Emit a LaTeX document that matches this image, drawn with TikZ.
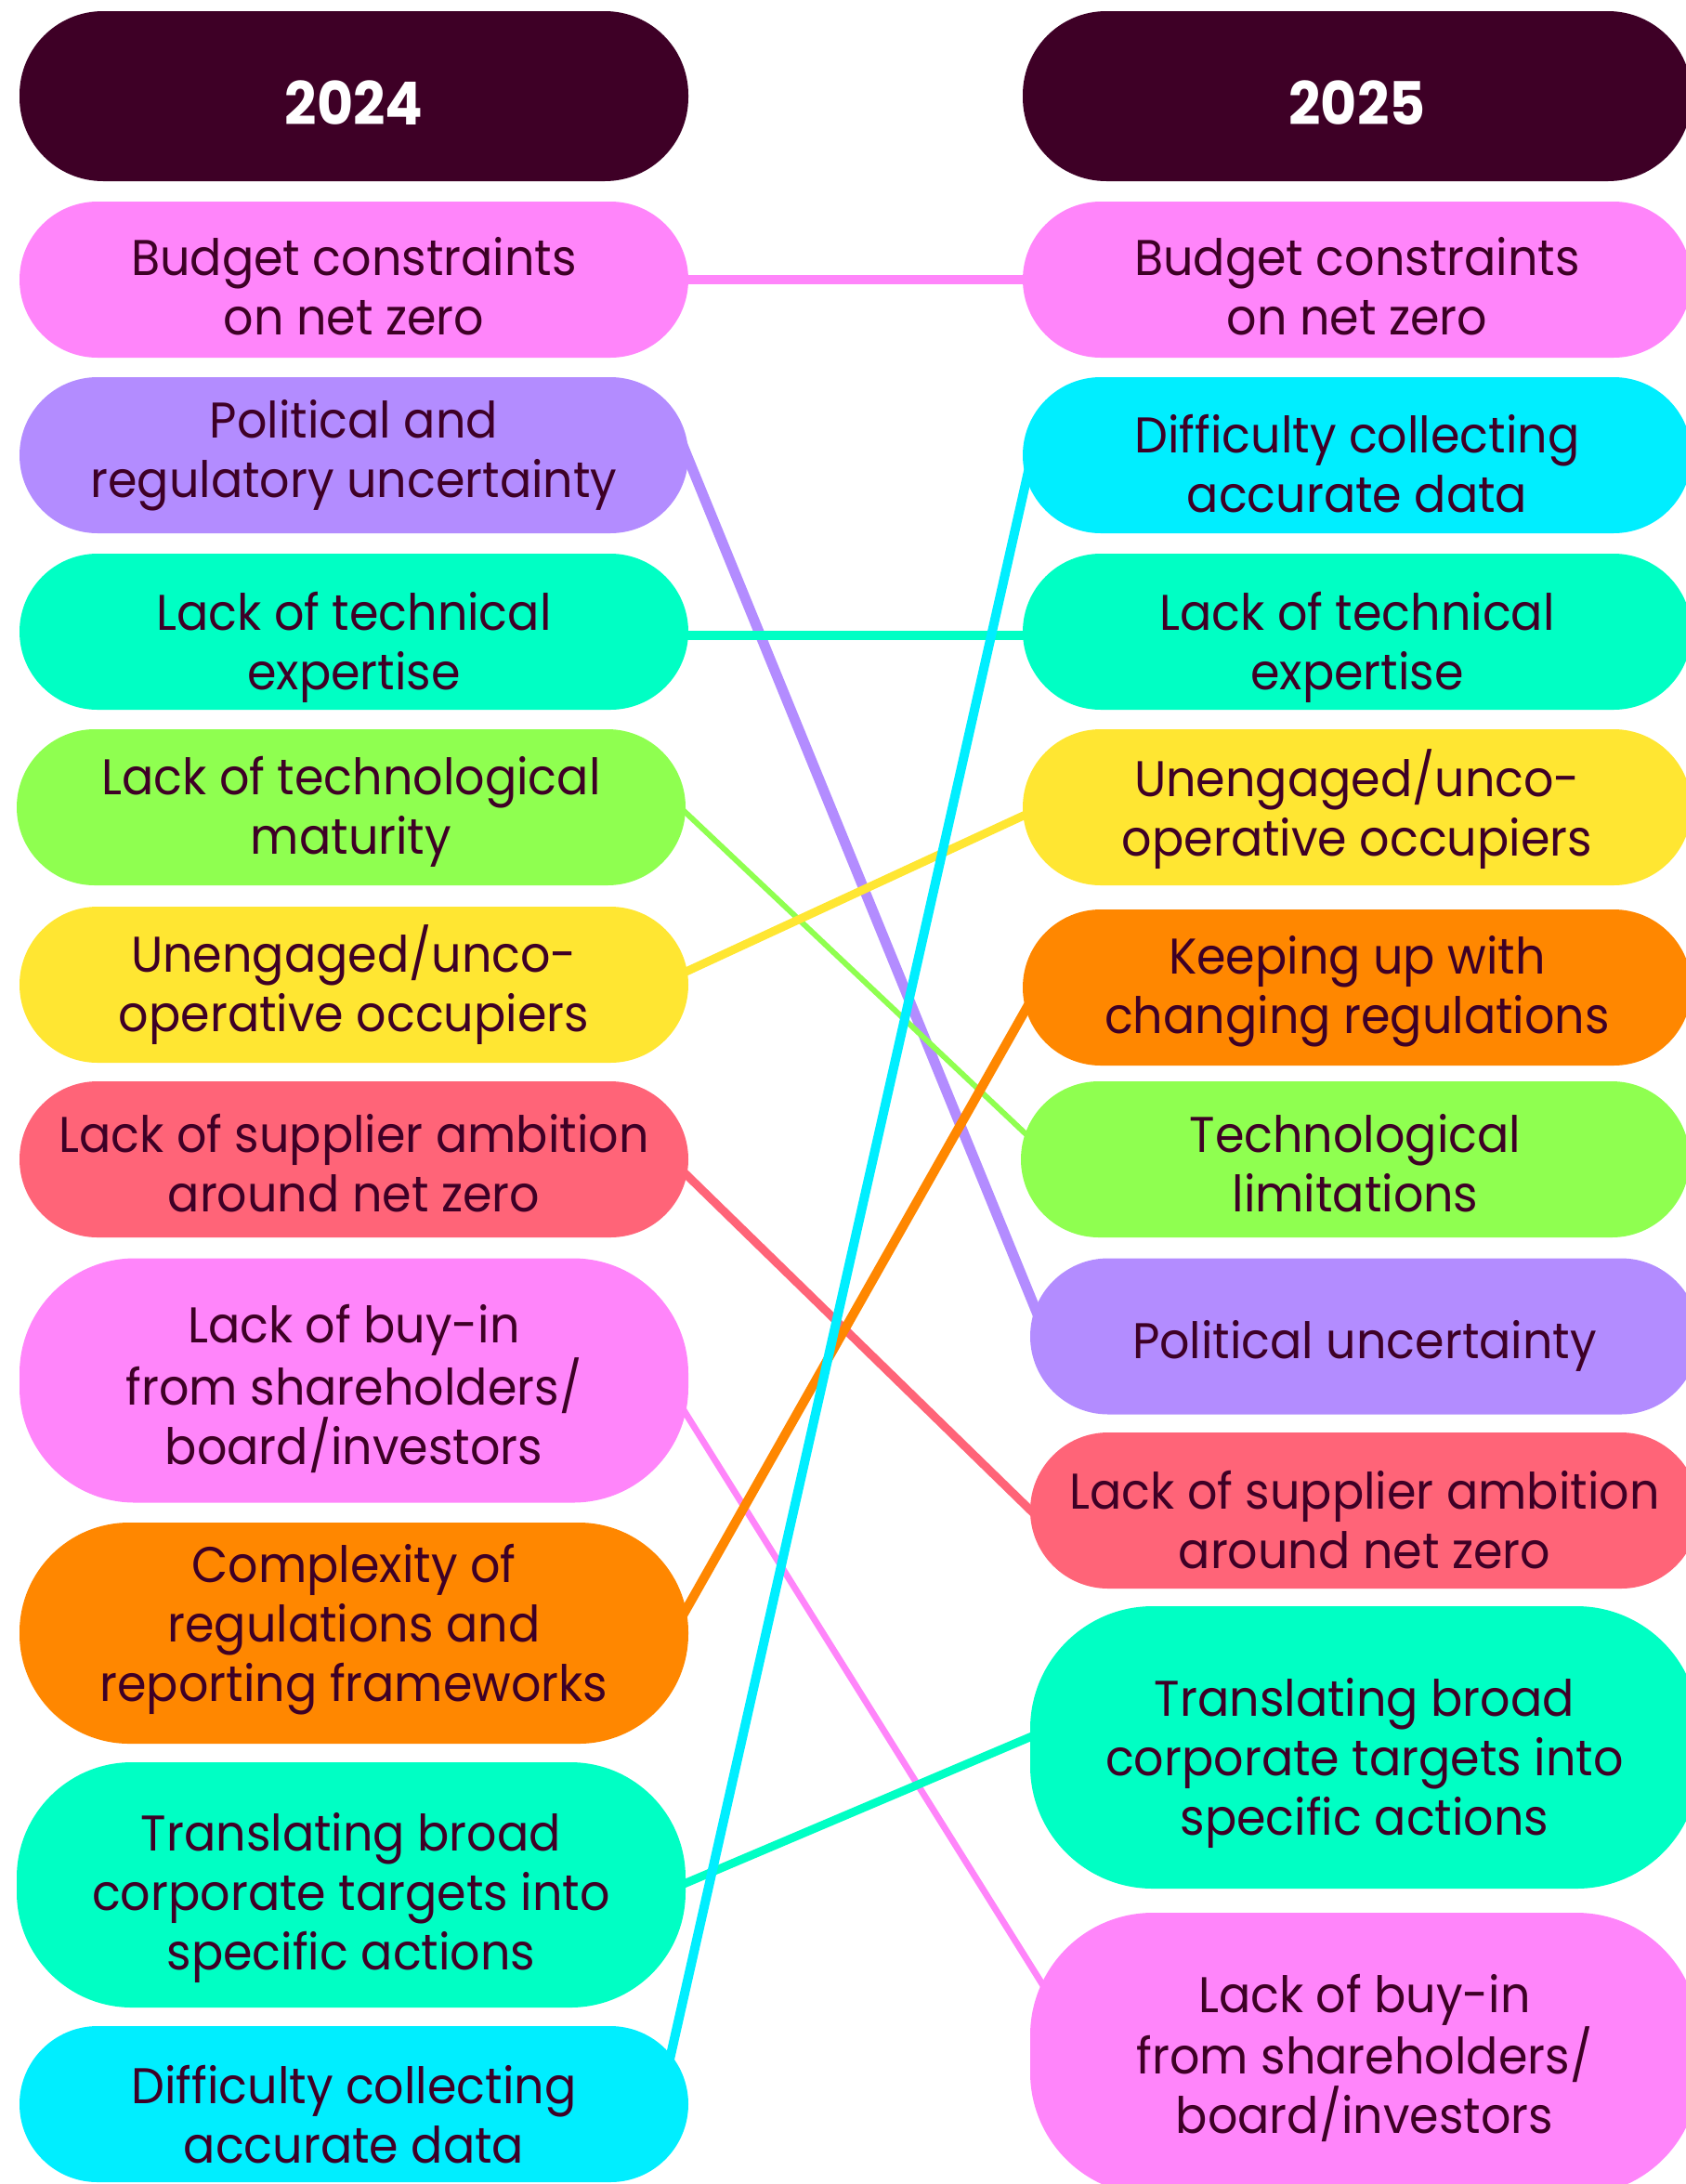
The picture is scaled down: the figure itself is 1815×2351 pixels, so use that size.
\documentclass[tikz,border=0pt]{standalone}
\usepackage{fontspec}
\setmainfont{Poppins}[FakeStretch=0.94]
\usetikzlibrary{calc,backgrounds}
\definecolor{plum}{HTML}{3E0026}
\definecolor{cpink}{HTML}{FF85FA}
\definecolor{cpurple}{HTML}{B38CFF}
\definecolor{cteal}{HTML}{00FFC4}
\definecolor{ccyan}{HTML}{00EEFF}
\definecolor{cgreen}{HTML}{8FFF50}
\definecolor{cyellow}{HTML}{FFE632}
\definecolor{corange}{HTML}{FF8700}
\definecolor{ccoral}{HTML}{FF6478}
\newcommand\textdrop{0pt}
\begin{document}
\begin{tikzpicture}[x=0.5pt,y=-0.5pt,
  dn/.code={\renewcommand\textdrop{#1}},
  boxtext/.style={dn=0pt,
    execute at begin node={\begin{minipage}{350pt}\centering\vspace*{\textdrop}},
    execute at end node={\end{minipage}}},
  pill/.style n args={3}{boxtext, fill=#1, draw=none, text=plum,
    minimum width=360pt, minimum height=#2, rounded corners=#3,
    inner sep=0pt, font=\fontsize{27}{32}\selectfont},
  small/.style={pill={#1}{84pt}{42pt}},
  head/.style={boxtext, fill=plum, text=white,
    minimum width=360pt, minimum height=91.5pt,
    rounded corners=45pt, inner sep=0pt, font=\fontsize{32}{36}\selectfont\bfseries},
  link/.style={draw=#1, line cap=butt, shorten <=-10pt, shorten >=-10pt}]
\useasboundingbox (0,0) rectangle (1815,2351);

% column headings
\node[head, dn=7.5pt] (H1) at (381,103.5) {2024};
\node[head, dn=7.5pt] (H2) at (1461,103.5) {2025};

% 2024 column
\node[small=cpink, dn=6.75pt]   (L1) at (381,301)  {Budget constraints\\on net zero};
\node[small=cpurple]            (L2) at (381,490)  {Political and\\regulatory uncertainty};
\node[small=cteal, dn=17pt]     (L3) at (381,680)  {Lack of technical\\expertise};
\node[small=cgreen, dn=4.5pt]   (L4) at (378,869)  {Lack of technological\\maturity};
\node[small=cyellow]            (L5) at (381,1060) {Unengaged/unco-\\operative occupiers};
\node[small=ccoral, dn=3.75pt]  (L6) at (381,1248) {Lack of supplier ambition\\around net zero};
\node[pill={cpink}{131.5pt}{62pt}, dn=9pt]     (L7) at (381,1486) {Lack of buy-in\\from shareholders/\\board/investors};
\node[pill={corange}{119pt}{59pt}, dn=-3.75pt] (L8) at (381,1758) {Complexity of\\regulations and\\reporting frameworks};
\node[pill={cteal}{132pt}{62pt}, dn=13.5pt]    (L9) at (378,2029) {Translating broad\\corporate targets into\\specific actions};
\node[small=ccyan, dn=11.25pt]  (L10) at (381,2265) {Difficulty collecting\\accurate data};

% 2025 column
\node[small=cpink, dn=6.75pt]   (R1) at (1461,301)  {Budget constraints\\on net zero};
\node[small=ccyan, dn=9pt]      (R2) at (1461,490)  {Difficulty collecting\\accurate data};
\node[small=cteal, dn=17pt]     (R3) at (1461,680)  {Lack of technical\\expertise};
\node[small=cyellow, dn=2.25pt] (R4) at (1461,869)  {Unengaged/unco-\\operative occupiers};
\node[small=corange, dn=4.5pt]  (R5) at (1461,1063) {Keeping up with\\changing regulations};
\node[small=cgreen, dn=4.5pt]   (R6) at (1459,1248) {Technological\\limitations};
\node[small=cpurple, dn=10.5pt] (R7) at (1469,1438.5) {Political uncertainty};
\node[small=ccoral, dn=9.75pt]  (R8) at (1469,1626) {Lack of supplier ambition\\around net zero};
\node[pill={cteal}{152pt}{66pt}, dn=16.5pt] (R9)  at (1469,1881) {Translating broad\\corporate targets into\\specific actions};
\node[pill={cpink}{152pt}{66pt}, dn=4.5pt]  (R10) at (1469,2211) {Lack of buy-in\\from shareholders/\\board/investors};

% connectors run behind the boxes
\begin{pgfonlayer}{background}
\draw[link=cpink, line width=5pt]   (L1.east) -- (R1.west);
\draw[link=cpurple, line width=5.5pt] ($(L2.east)+(0,5)$) -- ($(R7.west)+(8,-24.5)$);
\draw[link=cteal, line width=5pt]   ($(L3.east)+(0,4)$) -- ($(R3.west)+(0,4)$);
\draw[link=cgreen, line width=3pt]  ($(L4.east)+(-1,5)$) -- ($(R6.west)+(6,-27)$);
\draw[link=cyellow, line width=4.5pt] ($(L5.east)+(-3,-14)$) -- ($(R4.west)+(-1,10)$);
\draw[link=ccoral, line width=4.5pt] ($(L6.east)+(-3,16)$) -- ($(R8.west)+(0,-1)$);
\draw[link=cpink, line width=3.5pt] ($(L7.east)+(-6,31)$) -- ($(R10.west)+(11,-79)$);
\draw[link=corange, line width=5pt] ($(L8.east)+(-3,-25)$) -- ($(R5.west)+(4,23)$);
\draw[link=cteal, line width=4.5pt] ($(L9.east)+(0,-2)$) -- ($(R9.west)+(0,-11)$);
\draw[link=ccyan, line width=5pt]   ($(L10.east)+(-18,-59)$) -- ($(R2.west)+(4,28)$);
\end{pgfonlayer}
\end{tikzpicture}
\end{document}
